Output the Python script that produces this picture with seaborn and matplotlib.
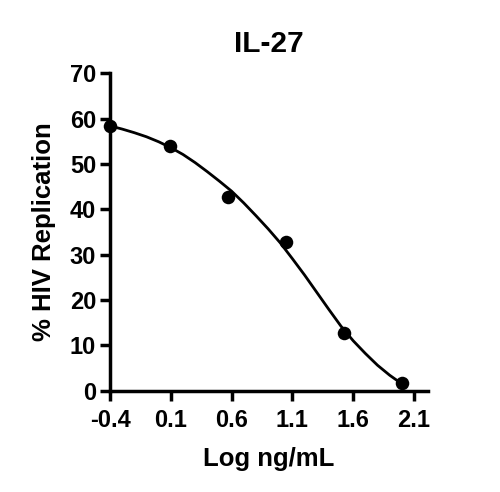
import numpy as np
import pandas as pd
import matplotlib
matplotlib.use("Agg")
import matplotlib.pyplot as plt
import seaborn as sns

# Measured data points
log_dose = [-0.398, 0.09, 0.568, 1.045, 1.523, 2.0]
replication = [58.4, 54.0, 42.8, 32.8, 12.7, 1.7]

# Fitted curve
curve_x = [-0.4, -0.3, -0.2, -0.1, 0.0, 0.1, 0.2, 0.3, 0.4, 0.5, 0.6, 0.7, 0.8,
           0.9, 1.0, 1.1, 1.2, 1.3, 1.4, 1.5, 1.6, 1.7, 1.8, 1.9, 2.0]
curve_y = [58.4, 57.7, 56.9, 56.0, 54.9, 53.6, 52.1, 50.3, 48.3, 46.2, 44.0, 41.4, 38.6,
           35.7, 32.6, 29.1, 25.5, 21.7, 17.9, 14.2, 11.0, 8.2, 5.6, 3.4, 1.5]

x_ticks = [-0.4, 0.1, 0.6, 1.1, 1.6, 2.1]
x_tick_labels = ["-0.4", "0.1", "0.6", "1.1", "1.6", "2.1"]
y_ticks = [0, 10, 20, 30, 40, 50, 60, 70]

sns.set_style("ticks")
plt.rcParams['font.family'] = ['Liberation Sans', 'DejaVu Sans']
plt.rcParams['font.weight'] = 'bold'
plt.rcParams['text.color'] = 'black'
plt.rcParams['axes.labelcolor'] = 'black'
plt.rcParams['xtick.color'] = 'black'
plt.rcParams['ytick.color'] = 'black'

fig = plt.figure(figsize=(5.0, 4.92), dpi=100)
ax = fig.add_axes([0.22, 0.206, 0.636, 0.645])

pts = pd.DataFrame({"x": log_dose, "y": replication})
crv = pd.DataFrame({"x": curve_x, "y": curve_y})

sns.lineplot(data=crv, x="x", y="y", ax=ax, color="black", linewidth=2.0,
             sort=False, estimator=None)
sns.scatterplot(data=pts, x="x", y="y", ax=ax, color="black", s=95,
                edgecolor="black", linewidth=0, clip_on=False, zorder=5)

ax.set_xlim(-0.4, 2.215)
ax.set_ylim(0, 70)
ax.set_xticks(x_ticks)
ax.set_xticklabels(x_tick_labels)
ax.set_yticks(y_ticks)

for s in ["top", "right"]:
    ax.spines[s].set_visible(False)
for s in ["left", "bottom"]:
    ax.spines[s].set_linewidth(2.5)
    ax.spines[s].set_color("black")

ax.tick_params(axis="both", length=7, width=2.5, color="black",
               labelsize=17, labelcolor="black")
ax.tick_params(axis="x", pad=6)
ax.tick_params(axis="y", pad=3)
for lab in ax.get_xticklabels() + ax.get_yticklabels():
    lab.set_fontweight("bold")

ax.set_xlabel("Log ng/mL", fontsize=18.5, fontweight="bold", labelpad=11, color="black")
ax.set_ylabel("% HIV Replication", fontsize=18.5, fontweight="bold", labelpad=10, color="black")
ax.set_title("IL-27", fontsize=21.5, fontweight="bold", pad=15, color="black")

fig.savefig("out.png", dpi=100)
